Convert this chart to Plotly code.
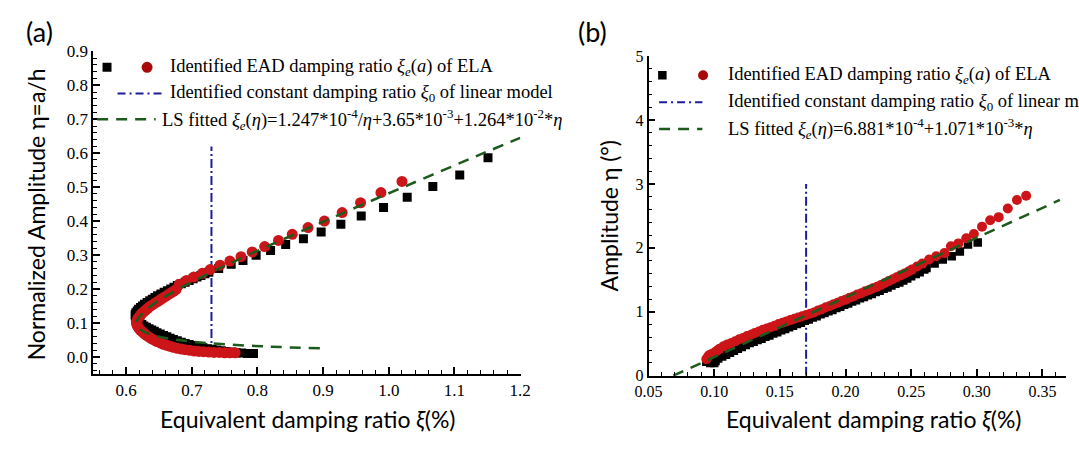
import plotly.graph_objects as go

# ---------------- Panel (a) data ----------------
a_red_xi = [0.766, 0.758, 0.750, 0.742, 0.734, 0.726, 0.718, 0.711, 0.704, 0.697, 0.690, 0.684, 0.678,
            0.672, 0.667, 0.662, 0.657, 0.652, 0.647, 0.643, 0.639, 0.635, 0.631, 0.628, 0.625, 0.622,
            0.620, 0.618, 0.617, 0.616, 0.616, 0.617, 0.618, 0.620, 0.622, 0.624, 0.627, 0.630, 0.633,
            0.636, 0.640, 0.644, 0.648, 0.652, 0.656, 0.660, 0.664, 0.668, 0.672, 0.676, 0.681, 0.692,
            0.703, 0.716, 0.728, 0.743, 0.758, 0.775, 0.792, 0.811, 0.832, 0.853, 0.877, 0.902, 0.929,
            0.957, 0.988, 1.020]
a_red_eta = [0.012, 0.012, 0.012, 0.013, 0.013, 0.014, 0.015, 0.016, 0.017, 0.019, 0.021, 0.023, 0.025,
             0.028, 0.031, 0.034, 0.037, 0.041, 0.045, 0.049, 0.053, 0.058, 0.063, 0.068, 0.073, 0.078,
             0.083, 0.088, 0.093, 0.098, 0.103, 0.108, 0.113, 0.118, 0.123, 0.128, 0.133, 0.138, 0.143,
             0.148, 0.153, 0.158, 0.163, 0.168, 0.173, 0.178, 0.183, 0.188, 0.193, 0.198, 0.214, 0.225,
             0.235, 0.246, 0.257, 0.270, 0.282, 0.295, 0.309, 0.325, 0.343, 0.361, 0.381, 0.400, 0.425,
             0.454, 0.484, 0.517]

a_blk_xi = [0.794, 0.785, 0.776, 0.768, 0.760, 0.752, 0.745, 0.738, 0.731, 0.724, 0.717, 0.710, 0.703,
            0.696, 0.690, 0.684, 0.678, 0.672, 0.667, 0.662, 0.657, 0.652, 0.647, 0.643, 0.639, 0.635,
            0.631, 0.627, 0.624, 0.621, 0.618, 0.616, 0.615, 0.614, 0.614, 0.615, 0.617, 0.619, 0.622,
            0.625, 0.628, 0.632, 0.636, 0.640, 0.644, 0.648, 0.653, 0.658, 0.663, 0.668, 0.673, 0.678,
            0.684, 0.690, 0.696, 0.702, 0.708, 0.714, 0.720, 0.726, 0.741, 0.760, 0.778, 0.798, 0.820,
            0.843, 0.870, 0.897, 0.927, 0.958, 0.992, 1.028, 1.067, 1.108, 1.151]
a_blk_eta = [0.010, 0.010, 0.011, 0.012, 0.014, 0.016, 0.018, 0.020, 0.022, 0.024, 0.027, 0.030, 0.033,
             0.036, 0.039, 0.043, 0.047, 0.051, 0.055, 0.059, 0.063, 0.067, 0.071, 0.075, 0.079, 0.083,
             0.087, 0.091, 0.095, 0.100, 0.105, 0.110, 0.115, 0.120, 0.125, 0.130, 0.135, 0.140, 0.145,
             0.150, 0.155, 0.160, 0.165, 0.170, 0.175, 0.180, 0.185, 0.190, 0.195, 0.200, 0.205, 0.210,
             0.215, 0.220, 0.225, 0.230, 0.235, 0.240, 0.245, 0.249, 0.260, 0.273, 0.284, 0.299, 0.313,
             0.331, 0.348, 0.368, 0.391, 0.415, 0.440, 0.470, 0.502, 0.536, 0.587]

a_fit_xi = [0.895, 0.819, 0.727, 0.678, 0.649, 0.632, 0.622, 0.616, 0.621, 0.638, 0.680, 0.731, 0.786,
            0.902, 1.022, 1.144, 1.200]
a_fit_eta = [0.025, 0.030, 0.040, 0.050, 0.060, 0.070, 0.080, 0.100, 0.120, 0.150, 0.200, 0.250, 0.300,
             0.400, 0.500, 0.600, 0.645]

a_xi0 = [0.73, 0.73]
a_xi0_eta = [0.005, 0.62]

# ---------------- Panel (b) data ----------------
b_red_xi = [0.094, 0.095, 0.096, 0.098, 0.100, 0.102, 0.104, 0.107, 0.110, 0.113, 0.116, 0.119, 0.122,
            0.125, 0.128, 0.131, 0.134, 0.137, 0.140, 0.143, 0.146, 0.149, 0.152, 0.155, 0.158, 0.161,
            0.164, 0.167, 0.170, 0.173, 0.176, 0.179, 0.182, 0.185, 0.188, 0.191, 0.194, 0.197, 0.200,
            0.203, 0.206, 0.209, 0.212, 0.215, 0.218, 0.221, 0.224, 0.227, 0.230, 0.233, 0.236, 0.239,
            0.242, 0.245, 0.248, 0.2505, 0.2545, 0.2585, 0.2637, 0.2691, 0.2754, 0.2803, 0.2860, 0.2920,
            0.2978, 0.3040, 0.3102, 0.3167, 0.3236, 0.3306, 0.3376]
b_red_eta = [0.26, 0.29, 0.32, 0.34, 0.36, 0.39, 0.42, 0.46, 0.49, 0.51, 0.54, 0.57, 0.59,
             0.62, 0.64, 0.67, 0.69, 0.72, 0.74, 0.76, 0.78, 0.81, 0.83, 0.85, 0.87, 0.89,
             0.91, 0.93, 0.95, 0.97, 0.99, 1.02, 1.04, 1.07, 1.09, 1.12, 1.14, 1.17, 1.19,
             1.22, 1.24, 1.27, 1.29, 1.32, 1.34, 1.37, 1.39, 1.42, 1.45, 1.48, 1.51, 1.54,
             1.57, 1.60, 1.63, 1.66, 1.71, 1.754, 1.818, 1.868, 1.918, 2.025, 2.070, 2.152,
             2.217, 2.332, 2.431, 2.481, 2.615, 2.750, 2.815]

b_blk_xi = [0.094, 0.097, 0.100, 0.101, 0.103, 0.106, 0.109, 0.112, 0.115, 0.118, 0.121, 0.124, 0.127,
            0.130, 0.133, 0.136, 0.139, 0.142, 0.145, 0.148, 0.151, 0.154, 0.157, 0.160, 0.163, 0.166,
            0.169, 0.172, 0.175, 0.178, 0.181, 0.184, 0.187, 0.190, 0.193, 0.196, 0.199, 0.202, 0.205,
            0.208, 0.211, 0.214, 0.217, 0.220, 0.223, 0.226, 0.229, 0.232, 0.235, 0.238, 0.241, 0.244,
            0.247, 0.250, 0.2535, 0.2565, 0.2600, 0.2617, 0.2679, 0.2741, 0.2809, 0.2871, 0.2933, 0.3007]
b_blk_eta = [0.22, 0.20, 0.20, 0.23, 0.27, 0.30, 0.33, 0.36, 0.39, 0.42, 0.45, 0.48, 0.51,
             0.53, 0.56, 0.58, 0.61, 0.63, 0.66, 0.68, 0.71, 0.73, 0.76, 0.78, 0.81, 0.83,
             0.86, 0.88, 0.91, 0.93, 0.96, 0.98, 1.01, 1.03, 1.06, 1.08, 1.11, 1.13, 1.16,
             1.18, 1.21, 1.23, 1.26, 1.28, 1.31, 1.33, 1.36, 1.38, 1.41, 1.44, 1.46, 1.49,
             1.52, 1.555, 1.59, 1.62, 1.66, 1.684, 1.754, 1.818, 1.868, 1.942, 2.052, 2.083]

b_fit_xi = [0.0688, 0.3633]
b_fit_eta = [0.0, 2.75]

b_xi0 = [0.17, 0.17]
b_xi0_eta = [0.0, 3.0]

# ---------------- Text ----------------
x_title = "Equivalent damping ratio <i>ξ</i>(%)"
ya_title = "Normalized Amplitude η=a/h"
yb_title = "Amplitude η (°)"
leg1 = "Identified EAD damping ratio <i>ξ</i><sub><i>e</i></sub>(<i>a</i>) of ELA"
leg2a = "Identified constant damping ratio <i>ξ</i><sub>0</sub> of linear model"
leg2b = "Identified constant damping ratio <i>ξ</i><sub>0</sub> of linear m"
leg3a = ("LS fitted <i>ξ</i><sub><i>e</i></sub>(<i>η</i>)=1.247*10<sup>-4</sup>/<i>η</i>"
         "+3.65*10<sup>-3</sup>+1.264*10<sup>-2</sup>*<i>η</i>")
leg3b = "LS fitted <i>ξ</i><sub><i>e</i></sub>(<i>η</i>)=6.881*10<sup>-4</sup>+1.071*10<sup>-3</sup>*<i>η</i>"

RED = "#CC1518"
BLK = "#000000"
BLUE = "#1C1C9C"
GREEN = "#1D5A1D"
SERIF = "Liberation Serif"
SANS = "Lato"

fig = go.Figure()

# Panel (a)
fig.add_trace(go.Scatter(x=a_xi0, y=a_xi0_eta, mode="lines", xaxis="x", yaxis="y",
                         line=dict(color=BLUE, width=2, dash="9px,3px,2px,3px")))
fig.add_trace(go.Scatter(x=a_blk_xi, y=a_blk_eta, mode="markers", xaxis="x", yaxis="y",
                         marker=dict(symbol="square", size=9, color=BLK)))
fig.add_trace(go.Scatter(x=a_red_xi, y=a_red_eta, mode="markers", xaxis="x", yaxis="y",
                         marker=dict(symbol="circle", size=11, color=RED)))
fig.add_trace(go.Scatter(x=a_fit_xi, y=a_fit_eta, mode="lines", xaxis="x", yaxis="y",
                         line=dict(color=GREEN, width=2.5, dash="11px,8px", shape="spline")))

# Panel (b)
fig.add_trace(go.Scatter(x=b_xi0, y=b_xi0_eta, mode="lines", xaxis="x2", yaxis="y2",
                         line=dict(color=BLUE, width=2, dash="9px,3px,2px,3px")))
fig.add_trace(go.Scatter(x=b_blk_xi, y=b_blk_eta, mode="markers", xaxis="x2", yaxis="y2",
                         marker=dict(symbol="square", size=8.5, color=BLK)))
fig.add_trace(go.Scatter(x=b_red_xi, y=b_red_eta, mode="markers", xaxis="x2", yaxis="y2",
                         marker=dict(symbol="circle", size=10, color=RED)))
fig.add_trace(go.Scatter(x=b_fit_xi, y=b_fit_eta, mode="lines", xaxis="x2", yaxis="y2",
                         line=dict(color=GREEN, width=2.5, dash="11px,8px")))

def axstyle(size):
    return dict(showline=True, linecolor="black", linewidth=1.6, ticks="inside", ticklen=7,
                tickwidth=1.5, tickcolor="black", showgrid=False, zeroline=False, mirror=False,
                tickfont=dict(family=SERIF, size=size, color="black"))

def minor(d):
    return dict(dtick=d, ticks="inside", ticklen=4, tickcolor="black", tickwidth=1)

fig.update_layout(
    width=1079, height=450, margin=dict(l=0, r=0, t=0, b=0),
    plot_bgcolor="white", paper_bgcolor="white", showlegend=False,
    xaxis=dict(domain=[0.0751, 0.4801], range=[0.55, 1.2005], tick0=0, dtick=0.1, tickformat=".1f",
               anchor="y", minor=minor(0.02), **axstyle(17)),
    yaxis=dict(domain=[0.1556, 0.9022], range=[-0.05, 0.9005], tick0=0, dtick=0.1, tickformat=".1f",
               anchor="x", minor=minor(0.02), **axstyle(17)),
    xaxis2=dict(domain=[0.6015, 0.9972], range=[0.05, 0.368], tick0=0.05, dtick=0.05, tickformat=".2f",
                anchor="y2", minor=minor(0.01), **axstyle(16)),
    yaxis2=dict(domain=[0.1511, 0.8911], range=[0, 5.001], tick0=0, dtick=1, tickformat="d",
                anchor="x2", minor=minor(0.2), **axstyle(16)),
)

ann = []
tfont = dict(family=SANS, size=23, color="black")
ann.append(dict(text=x_title, x=0.278, y=0.05, xref="paper", yref="paper", showarrow=False,
                font=tfont, xanchor="center", yanchor="middle"))
ann.append(dict(text=x_title, x=0.815, y=0.05, xref="paper", yref="paper", showarrow=False,
                font=tfont, xanchor="center", yanchor="middle"))
ann.append(dict(text=ya_title, x=0.021, y=0.525, xref="paper", yref="paper", showarrow=False,
                textangle=-90, font=tfont, xanchor="center", yanchor="middle"))
ann.append(dict(text=yb_title, x=0.564, y=0.52, xref="paper", yref="paper", showarrow=False,
                textangle=-90, font=tfont, xanchor="center", yanchor="middle"))
# panel labels
pfont = dict(family=SANS, size=27, color="black")
ann.append(dict(text="(a)", x=0.024, y=0.948, xref="paper", yref="paper", showarrow=False,
                font=pfont, xanchor="center", yanchor="middle"))
ann.append(dict(text="(b)", x=0.548, y=0.948, xref="paper", yref="paper", showarrow=False,
                font=pfont, xanchor="center", yanchor="middle"))

legfont = dict(family=SERIF, size=18.5, color="black")
for txt, xx, yy in [(leg1, 0.664, 0.853), (leg2a, 0.664, 0.776), (leg3a, 0.651, 0.70)]:
    ann.append(dict(text=txt, x=xx, y=yy, xref="x", yref="y", showarrow=False, font=legfont,
                    xanchor="left", yanchor="middle"))
for txt, xx, yy in [(leg1, 0.109, 4.70), (leg2b, 0.109, 4.28), (leg3b, 0.109, 3.86)]:
    ann.append(dict(text=txt, x=xx, y=yy, xref="x2", yref="y2", showarrow=False, font=legfont,
                    xanchor="left", yanchor="middle"))
fig.update_layout(annotations=ann)

shapes = []
def sym(kind, xr, yr, xc, yc, size, color):
    return dict(type=kind, xref=xr, yref=yr, xsizemode="pixel", ysizemode="pixel",
                xanchor=xc, yanchor=yc, x0=-size / 2, x1=size / 2, y0=-size / 2, y1=size / 2,
                fillcolor=color, line=dict(width=0))

shapes.append(sym("rect", "x", "y", 0.571, 0.853, 9, BLK))
shapes.append(sym("circle", "x", "y", 0.632, 0.853, 11, "#A80A0A"))
shapes.append(dict(type="line", xref="x", yref="y", x0=0.587, x1=0.655, y0=0.776, y1=0.776,
                   line=dict(color=BLUE, width=2, dash="8px,4px,2px,4px")))
shapes.append(dict(type="line", xref="x", yref="y", x0=0.556, x1=0.645, y0=0.70, y1=0.70,
                   line=dict(color=GREEN, width=2.5, dash="11px,8px")))

shapes.append(sym("rect", "x2", "y2", 0.0605, 4.70, 8.5, BLK))
shapes.append(sym("circle", "x2", "y2", 0.0915, 4.70, 10, "#A80A0A"))
shapes.append(dict(type="line", xref="x2", yref="y2", x0=0.058, x1=0.091, y0=4.28, y1=4.28,
                   line=dict(color=BLUE, width=2, dash="8px,4px,2px,4px")))
shapes.append(dict(type="line", xref="x2", yref="y2", x0=0.058, x1=0.091, y0=3.86, y1=3.86,
                   line=dict(color=GREEN, width=2.5, dash="11px,8px")))
fig.update_layout(shapes=shapes)

fig.write_html("out.html")
